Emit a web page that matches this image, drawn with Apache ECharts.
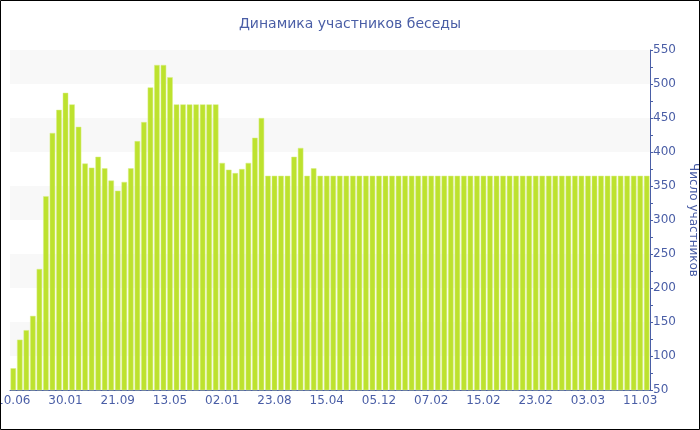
<!DOCTYPE html>
<html><head><meta charset="utf-8">
<script src="https://cdn.jsdelivr.net/npm/echarts@6/dist/echarts.min.js"></script>
<style>html,body{margin:0;padding:0;background:#fff}#c{width:700px;height:430px}</style>
</head><body><div id="c"></div>
<script>
const titleText = 'Динамика участников беседы';
const yAxisName = 'Число участников';
const tickLabels = ['10.06','30.01','21.09','13.05','02.01','23.08','15.04','05.12','07.02','15.02','23.02','03.03','11.03'];
const labelEvery = 8;
const participants = [
  82,124,138,159,228,335,428,462,487,470,
  437,383,377,393,376,358,343,356,376,416,
  444,495,528,528,510,470,470,470,470,470,
  470,470,384,374,369,375,384,421,450,365,
  365,365,365,393,406,365,376,365,365,365,
  365,365,365,365,365,365,365,365,365,365,
  365,365,365,365,365,365,365,365,365,365,
  365,365,365,365,365,365,365,365,365,365,
  365,365,365,365,365,365,365,365,365,365,
  365,365,365,365,365,365,365,365
];
const categories = participants.map((v, i) => (i % labelEvery === 0 ? (tickLabels[i / labelEvery] || '') : ''));
const blue = '#4a5ea6';
const font = 'DejaVu Sans';
const chart = echarts.init(document.getElementById('c'), null, {renderer: 'canvas'});
chart.setOption({
  animation: false,
  backgroundColor: '#fff',
  textStyle: {fontFamily: font},
  title: {text: titleText, left: 'center', top: 12,
    textStyle: {color: blue, fontSize: 14, fontWeight: 'normal', fontFamily: font}},
  grid: {left: 10, right: 50, top: 50, bottom: 40, containLabel: false, outerBoundsMode: 'none'},
  graphic: [{type: 'rect', shape: {x: 0.5, y: 0.5, width: 699, height: 429},
    style: {fill: 'none', stroke: '#000', lineWidth: 1}, z: 100}],
  xAxis: {
    type: 'category', data: categories,
    axisLine: {lineStyle: {color: blue}},
    axisTick: {alignWithLabel: true, interval: labelEvery - 1, length: 4, lineStyle: {color: blue}},
    axisLabel: {interval: labelEvery - 1, color: blue, fontSize: 12, fontFamily: font, margin: 5, hideOverlap: false},
    splitLine: {show: false}
  },
  yAxis: {
    type: 'value', position: 'right', min: 50, max: 550, interval: 50,
    name: yAxisName, nameLocation: 'middle', nameRotate: -90, nameGap: 37,
    nameTextStyle: {color: blue, fontSize: 12, fontFamily: font},
    axisLine: {show: true, lineStyle: {color: blue}},
    axisTick: {show: true, length: 3, lineStyle: {color: blue}},
    minorTick: {show: true, splitNumber: 2, length: 3, lineStyle: {color: blue}},
    axisLabel: {color: blue, fontSize: 12, fontFamily: font, margin: 3},
    splitLine: {show: false},
    splitArea: {show: true, areaStyle: {color: ['#ffffff', '#f8f8f8']}}
  },
  series: [{
    type: 'bar', data: participants, barCategoryGap: '16%',
    itemStyle: {color: '#bde22e', borderColor: '#d8ee86', borderWidth: 0.5}
  }]
});
</script></body></html>
